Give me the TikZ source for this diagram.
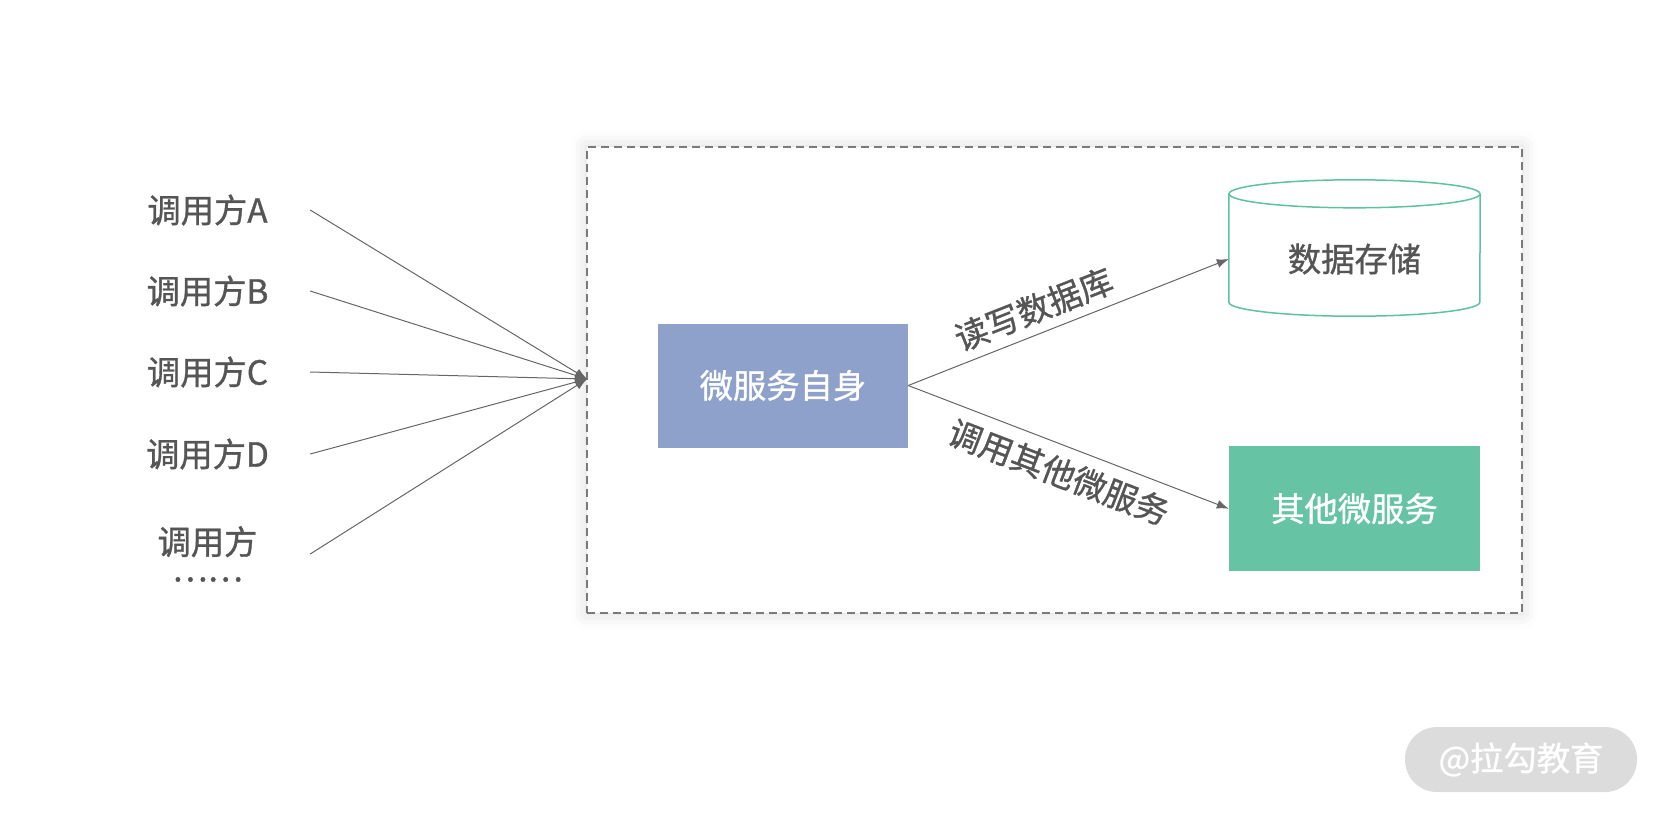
\documentclass[tikz,border=0pt]{standalone}
\usepackage{fontspec}
\setmainfont{Noto Sans CJK SC}[FakeBold=1]
\usetikzlibrary{arrows.meta, shadows.blur}
\definecolor{txtgray}{HTML}{555555}
\definecolor{linegray}{HTML}{666666}
\definecolor{dashgray}{HTML}{7A7A7A}
\definecolor{selfblue}{HTML}{8EA1CB}
\definecolor{othergreen}{HTML}{66C4A5}
\definecolor{dbgreen}{HTML}{5EC29E}
\definecolor{markgray}{HTML}{DCDCDC}
\tikzset{
  glow/.style = {blur shadow={shadow xshift=0pt, shadow yshift=0pt, shadow blur radius=#1, shadow opacity=15}},
  caller/.style = {text=txtgray, minimum width=205pt, inner sep=0pt},
  callarrow/.style = {draw=linegray, line width=1pt, -{Latex[length=12pt, width=9pt]}},
  svcbox/.style = {fill=#1, text=white, inner sep=0pt, minimum width=251pt, minimum height=125pt},
  edgelabel/.style = {text=txtgray, inner sep=0pt, sloped}
}
\begin{document}
\begin{tikzpicture}[x=1pt, y=-1pt, font=\fontsize{33.3}{38}\selectfont]
\useasboundingbox (0,0) rectangle (1660,815);
\node[draw=dashgray, line width=1.5pt, dash pattern=on 8pt off 5pt, fill=white, glow=16pt, minimum width=935pt, minimum height=466pt] (area) at (1054.5,380) {};
\foreach \n/\t/\y in {A/调用方A/210, B/调用方B/291, C/调用方C/372, D/调用方D/454}
  \node[caller] (caller\n) at (207.5,\y) {\t};
\node[caller, align=center, font=\fontsize{33.3}{27}\selectfont] (callerE) at (207.5,554) {调用方\\……};
\coordinate (entry) at (587,379);
\foreach \n in {A,B,C,D,E}
  \draw[callarrow] (caller\n.east) -- (entry);
\node[svcbox=selfblue, minimum width=250pt, minimum height=124pt] (self) at (783,385.5) {微服务自身};
\node[text=txtgray, inner sep=0pt, minimum width=251pt, minimum height=122pt] (store) at (1354.5,259) {数据存储};
\draw[draw=dbgreen, line width=1.5pt] ([yshift=4pt]store.north west) -- ([yshift=18pt]store.south west) arc[start angle=180, end angle=360, x radius=125.5pt, y radius=14pt] -- ([yshift=4pt]store.north east);
\draw[draw=dbgreen, line width=1.5pt] ([yshift=4pt]store.north) ellipse[x radius=125.5pt, y radius=14pt];
\node[svcbox=othergreen] (other) at (1354.5,508.7) {其他微服务};
\draw[callarrow] (self.east) -- (store.west) node[edgelabel, pos=.42, above=9pt] {读写数据库};
\draw[callarrow] (self.east) -- (other.west) node[edgelabel, pos=.5, below=11pt] {调用其他微服务};
\node[fill=markgray, text=white, rounded corners=32pt, minimum width=232pt, minimum height=65pt] (mark) at (1521,759.5) {@拉勾教育};
\end{tikzpicture}
\end{document}
